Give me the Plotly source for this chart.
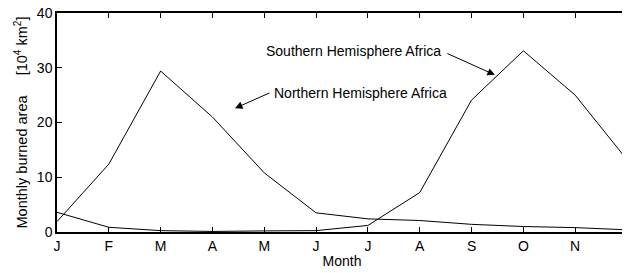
import plotly.graph_objects as go

months = ["J", "F", "M", "A", "M", "J", "J", "A", "S", "O", "N", "D"]
month_pos = list(range(1, 13))
northern = [1.9, 12.4, 29.4, 21.0, 10.8, 3.5, 2.4, 2.1, 1.4, 1.0, 0.8, 0.4]
southern = [3.6, 0.86, 0.25, 0.1, 0.2, 0.25, 1.2, 7.2, 24.1, 33.1, 25.0, 13.2]
y_ticks = [0, 10, 20, 30, 40]

FONT = "Liberation Sans, Arial, Helvetica, sans-serif"

fig = go.Figure()
fig.add_trace(go.Scatter(x=month_pos, y=northern, mode="lines",
                         line=dict(color="black", width=1), showlegend=False))
fig.add_trace(go.Scatter(x=month_pos, y=southern, mode="lines",
                         line=dict(color="black", width=1), showlegend=False))

axis_common = dict(showline=True, linecolor="black", linewidth=1.5, mirror="ticks",
                   ticks="inside", ticklen=5, tickcolor="black", tickwidth=1,
                   showgrid=False, zeroline=False, ticklabeloverflow="allow",
                   automargin=False,
                   tickfont=dict(family=FONT, size=14, color="black"))

fig.update_xaxes(range=[1, 12], tickvals=month_pos, ticktext=months,
                 title=dict(text="Month", font=dict(family=FONT, size=14, color="black"), standoff=4),
                 **axis_common)
fig.update_yaxes(range=[0, 40], tickvals=y_ticks,
                 title=dict(text="Monthly burned area     [10<sup>4</sup> km<sup>2</sup>]",
                            font=dict(family=FONT, size=14.5, color="black"), standoff=6),
                 **axis_common)

# text labels
fig.add_annotation(x=8.449, y=33.1, text="Southern Hemisphere Africa", showarrow=False,
                   xanchor="right", yanchor="middle",
                   font=dict(family=FONT, size=14, color="black"))
fig.add_annotation(x=5.149, y=25.4, text="Northern Hemisphere Africa", showarrow=False,
                   xanchor="left", yanchor="middle",
                   font=dict(family=FONT, size=14, color="black"))
# arrows
fig.add_annotation(x=9.45, y=28.7, text="", showarrow=True, ax=-49, ay=-22,
                   arrowhead=2, arrowsize=1.5, arrowwidth=1, arrowcolor="black")
fig.add_annotation(x=4.435, y=22.6, text="", showarrow=True, ax=36, ay=-16,
                   arrowhead=2, arrowsize=1.5, arrowwidth=1, arrowcolor="black")

fig.update_layout(width=630, height=265, margin=dict(l=49, r=11, t=5, b=41),
                  paper_bgcolor="white", plot_bgcolor="white",
                  font=dict(family=FONT, color="black"))

fig.write_html("out.html")
